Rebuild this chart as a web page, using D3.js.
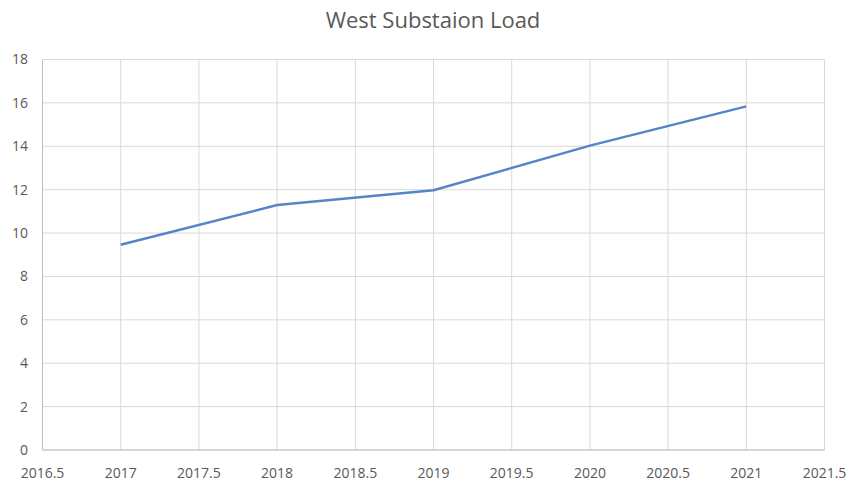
<!DOCTYPE html>
<html><head><meta charset="utf-8">
<script src="https://cdn.jsdelivr.net/npm/d3@7"></script>
<style>body{margin:0;background:#fff;}svg{display:block;}</style>
</head><body>
<script>
const years = [2017, 2018, 2019, 2020, 2021];
const load = [9.46, 11.29, 11.97, 14.03, 15.84];
const xTicks = [2016.5, 2017, 2017.5, 2018, 2018.5, 2019, 2019.5, 2020, 2020.5, 2021, 2021.5];
const yTicks = [0, 2, 4, 6, 8, 10, 12, 14, 16, 18];
const title = "West Substaion Load";

const W = 852, H = 485;
const m = {left: 42.5, right: 852 - 824.5, top: 59.5, bottom: 485 - 450};
const svg = d3.select("body").append("svg").attr("width", W).attr("height", H);
const font = "'Open Sans', 'Noto Sans', sans-serif";

const x = d3.scaleLinear().domain([2016.5, 2021.5]).range([m.left, W - m.right]);
const y = d3.scaleLinear().domain([0, 18]).range([H - m.bottom, m.top]);

svg.append("text").attr("x", 433).attr("y", 28).attr("text-anchor", "middle")
  .attr("font-family", font).attr("font-size", 22).attr("fill", "#595959").text(title);

// grid
svg.append("g").selectAll("line").data(yTicks).join("line")
  .attr("x1", x(2016.5)).attr("x2", x(2021.5))
  .attr("y1", d => y(d)).attr("y2", d => y(d))
  .attr("stroke", "#d9d9d9").attr("stroke-width", 1);
svg.append("g").selectAll("line").data(xTicks).join("line")
  .attr("x1", d => x(d)).attr("x2", d => x(d))
  .attr("y1", y(0)).attr("y2", y(18))
  .attr("stroke", "#d9d9d9").attr("stroke-width", 1);

// axes lines
svg.append("line").attr("x1", x(2016.5)).attr("x2", x(2021.5)).attr("y1", y(0)).attr("y2", y(0))
  .attr("stroke", "#bfbfbf");
svg.append("line").attr("x1", x(2016.5)).attr("x2", x(2016.5)).attr("y1", y(0)).attr("y2", y(18))
  .attr("stroke", "#bfbfbf");

// labels
svg.append("g").selectAll("text").data(yTicks).join("text")
  .attr("x", 28).attr("y", d => y(d)).attr("dy", "0.35em").attr("text-anchor", "end")
  .attr("font-family", font).attr("font-size", 14).attr("fill", "#595959").text(d => d);
svg.append("g").selectAll("text").data(xTicks).join("text")
  .attr("x", d => x(d)).attr("y", 478).attr("text-anchor", "middle")
  .attr("font-family", font).attr("font-size", 14).attr("fill", "#595959").text(d => d);

const line = d3.line().x((d, i) => x(years[i])).y(d => y(d));
svg.append("path").datum(load).attr("d", line).attr("fill", "none")
  .attr("stroke", "#5585c8").attr("stroke-width", 2.5).attr("stroke-linejoin", "round");
</script>
</body></html>
